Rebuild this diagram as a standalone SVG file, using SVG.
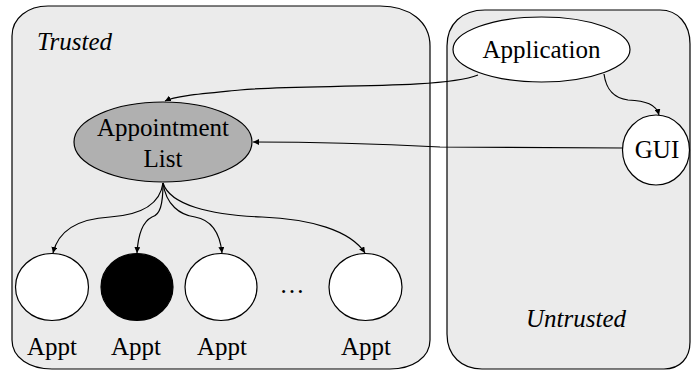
<svg xmlns="http://www.w3.org/2000/svg" width="691" height="371" viewBox="0 0 691 371">
  <defs>
    <marker id="arrow" viewBox="0 0 10 10" refX="10" refY="5" markerWidth="6" markerHeight="6" markerUnits="userSpaceOnUse" orient="auto">
      <path d="M0,0 L10,5 L0,10 Z" fill="#000"/>
    </marker>
  </defs>
  <style>
    .region { fill: #ebebeb; stroke: #000; stroke-width: 1.2; }
    .node { stroke: #000; stroke-width: 1.2; }
    .edge { fill: none; stroke: #000; stroke-width: 1.2; marker-end: url(#arrow); }
    .txt { font-family: "Liberation Serif", "Times New Roman", "DejaVu Serif", serif; font-size: 25px; fill: #000; }
    .label { text-anchor: middle; }
    .zone { font-style: italic; }
  </style>

  <!-- trust zones -->
  <g id="zone-trusted">
    <path class="region" d="M12,36 C12,18 28,6 48,6 L380,6 C410,6 430,22 430,46 L430,340 C430,358 412,369 390,369 L52,369 C30,369 12,358 12,340 Z"/>
    <text class="txt zone" x="37" y="50" font-family="Liberation Serif, serif">Trusted</text>
  </g>
  <g id="zone-untrusted">
    <path class="region" d="M447,46 C447,24 462,10 485,10 L660,10 C678,10 690,24 690,44 L690,342 C690,358 680,369 664,369 L482,369 C462,369 447,356 447,334 Z"/>
    <text class="txt zone label" x="576" y="327">Untrusted</text>
  </g>

  <!-- connectors -->
  <g id="connectors">
    <path class="edge" d="M478,75 C440,90 300,84 240,90 C200,94 175,96 165,101"/>
    <path class="edge" d="M604,74 C606,88 612,98 628,100 C646,101 656,104 659,115"/>
    <path class="edge" d="M623,148 L440,147 C420,146 330,142 253,142"/>
    <path class="edge" d="M163,183 C160,205 140,215 110,217 C75,219 58,232 53,253"/>
    <path class="edge" d="M163,183 C163,205 160,215 152,217 C142,222 138,236 137,253"/>
    <path class="edge" d="M163,183 C166,205 180,215 195,217 C212,220 220,234 222,253"/>
    <path class="edge" d="M163,183 C170,205 210,215 262,217 C310,219 350,230 365,253"/>
  </g>

  <!-- nodes -->
  <g id="application">
    <ellipse class="node" cx="541.5" cy="49.5" rx="88.5" ry="32.5" fill="#fff"/>
    <text class="txt label" x="541.5" y="58">Application</text>
  </g>
  <g id="gui">
    <ellipse class="node" cx="656" cy="150" rx="33.5" ry="35" fill="#fff"/>
    <text class="txt label" x="657" y="158">GUI</text>
  </g>
  <g id="appointment-list">
    <ellipse class="node" cx="163" cy="142" rx="89" ry="40" fill="#b0b0b0"/>
    <text class="txt label" x="163" y="136">Appointment</text>
    <text class="txt label" x="163" y="167">List</text>
  </g>
  <g id="appt-1">
    <ellipse class="node" cx="52" cy="287" rx="36.5" ry="33.5" fill="#fff"/>
    <text class="txt label" x="52" y="355">Appt</text>
  </g>
  <g id="appt-2">
    <ellipse class="node" cx="137" cy="287" rx="36" ry="33.5" fill="#000"/>
    <text class="txt label" x="136" y="355">Appt</text>
  </g>
  <g id="appt-3">
    <ellipse class="node" cx="221" cy="287" rx="36" ry="33.5" fill="#fff"/>
    <text class="txt label" x="222" y="355">Appt</text>
  </g>
  <g id="appt-ellipsis">
    <text class="txt label" x="292" y="293">…</text>
  </g>
  <g id="appt-n">
    <ellipse class="node" cx="365.5" cy="287" rx="36.5" ry="33.5" fill="#fff"/>
    <text class="txt label" x="366" y="355">Appt</text>
  </g>
</svg>
